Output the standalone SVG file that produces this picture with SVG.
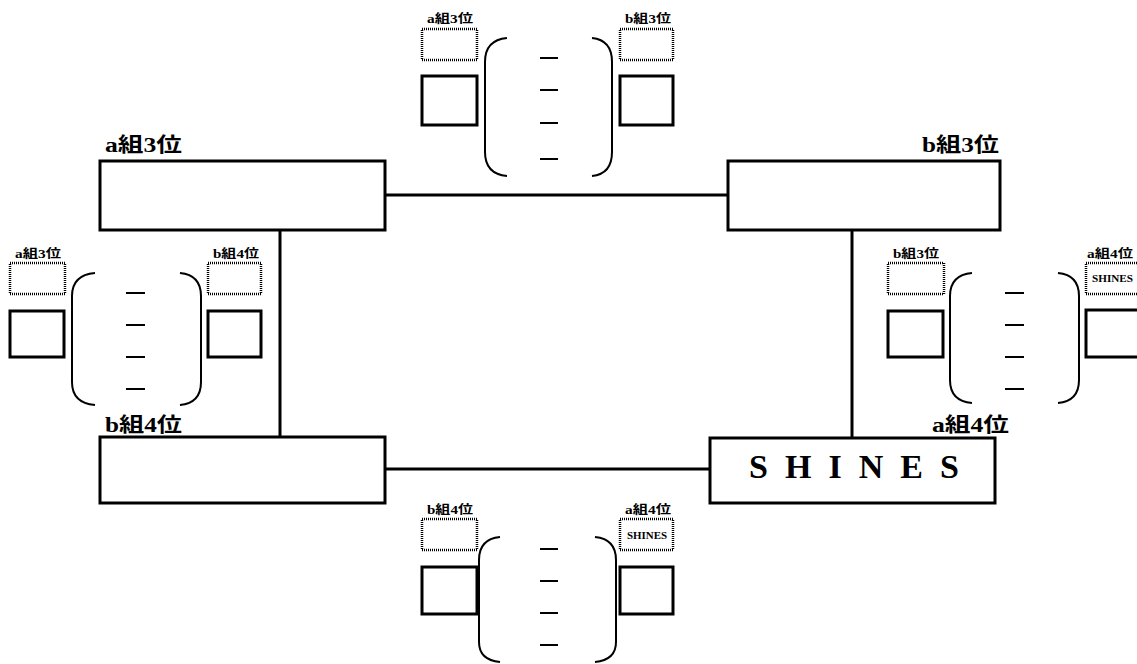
<svg xmlns="http://www.w3.org/2000/svg" width="1137" height="664" viewBox="0 0 1137 664">
<style>
.box{fill:#fff;stroke:#000;stroke-width:3}
.sq{fill:#fff;stroke:#000;stroke-width:3}
.dot{fill:none;stroke:#000;stroke-width:2.5;stroke-dasharray:1 1}
.par{fill:none;stroke:#000;stroke-width:2}
.dash{stroke:#000;stroke-width:2}
.con{stroke:#000;stroke-width:3;fill:none}
.lbl{font-family:"Liberation Serif","Noto Sans CJK JP",serif;font-weight:bold;font-size:20px;fill:#000}
.sl{font-family:"Liberation Serif","Noto Sans CJK JP",serif;font-weight:bold;font-size:12px;fill:#000}
.ss{font-family:"Liberation Serif",serif;font-weight:bold;font-size:11px;fill:#000}
.big{font-family:"Liberation Serif",serif;font-weight:bold;font-size:34px;fill:#000}
</style>
<g id="connectors">
<line class="con" x1="385" y1="195" x2="728" y2="195"/>
<line class="con" x1="385" y1="469" x2="710" y2="469"/>
<line class="con" x1="280" y1="230" x2="280" y2="437"/>
<line class="con" x1="852" y1="230" x2="852" y2="438"/>
</g>
<g id="node-a3">
<text class="lbl" x="105" y="152" textLength="77" lengthAdjust="spacingAndGlyphs">a組3位</text>
<rect class="box" x="100" y="161" width="285" height="69"/>
</g>
<g id="node-b3">
<text class="lbl" x="922" y="152" textLength="77" lengthAdjust="spacingAndGlyphs">b組3位</text>
<rect class="box" x="728" y="161" width="272" height="69"/>
</g>
<g id="node-b4">
<text class="lbl" x="105" y="432" textLength="77" lengthAdjust="spacingAndGlyphs">b組4位</text>
<rect class="box" x="100" y="437" width="285" height="66"/>
</g>
<g id="node-a4">
<text class="lbl" x="932" y="432" textLength="77" lengthAdjust="spacingAndGlyphs">a組4位</text>
<rect class="box" x="710" y="438" width="285" height="65"/>
<text class="big" x="749" y="478" textLength="210" lengthAdjust="spacing">SHINES</text>
</g>
<g id="match-top">
<text class="sl" x="427" y="23" textLength="46" lengthAdjust="spacingAndGlyphs">a組3位</text>
<rect class="dot" x="422" y="29" width="55" height="31"/>
<rect class="sq" x="422" y="76" width="55" height="49"/>
<path class="par" d="M507 38 Q485 40 485 62 L485 152 Q485 174 507 176"/>
<line class="dash" x1="540" y1="58" x2="558" y2="58"/>
<line class="dash" x1="540" y1="90" x2="558" y2="90"/>
<line class="dash" x1="540" y1="123" x2="558" y2="123"/>
<line class="dash" x1="540" y1="159" x2="558" y2="159"/>
<path class="par" d="M592 38 Q612 40 612 62 L612 152 Q612 174 592 176"/>
<text class="sl" x="625" y="23" textLength="46" lengthAdjust="spacingAndGlyphs">b組3位</text>
<rect class="dot" x="620" y="29" width="53" height="31"/>
<rect class="sq" x="620" y="76" width="53" height="49"/>
</g>
<g id="match-left">
<text class="sl" x="15" y="258" textLength="46" lengthAdjust="spacingAndGlyphs">a組3位</text>
<rect class="dot" x="10" y="263" width="55" height="31"/>
<rect class="sq" x="10" y="311" width="54" height="46"/>
<path class="par" d="M95 273 Q72 275 72 296 L72 382 Q72 403 95 405"/>
<line class="dash" x1="126" y1="293" x2="145" y2="293"/>
<line class="dash" x1="126" y1="325" x2="145" y2="325"/>
<line class="dash" x1="126" y1="357" x2="145" y2="357"/>
<line class="dash" x1="126" y1="389" x2="145" y2="389"/>
<path class="par" d="M180 273 Q201 275 201 296 L201 382 Q201 403 180 405"/>
<text class="sl" x="213" y="258" textLength="46" lengthAdjust="spacingAndGlyphs">b組4位</text>
<rect class="dot" x="208" y="263" width="53" height="31"/>
<rect class="sq" x="208" y="311" width="53" height="46"/>
</g>
<g id="match-right">
<text class="sl" x="893" y="258" textLength="46" lengthAdjust="spacingAndGlyphs">b組3位</text>
<rect class="dot" x="888" y="263" width="56" height="31"/>
<rect class="sq" x="888" y="311" width="55" height="46"/>
<path class="par" d="M972 273 Q950 275 950 296 L950 380 Q950 401 972 403"/>
<line class="dash" x1="1005" y1="293" x2="1024" y2="293"/>
<line class="dash" x1="1005" y1="325" x2="1024" y2="325"/>
<line class="dash" x1="1005" y1="357" x2="1024" y2="357"/>
<line class="dash" x1="1005" y1="389" x2="1024" y2="389"/>
<path class="par" d="M1058 273 Q1079 275 1079 296 L1079 380 Q1079 401 1058 403"/>
<text class="sl" x="1087" y="258" textLength="46" lengthAdjust="spacingAndGlyphs">a組4位</text>
<rect class="dot" x="1086" y="263" width="56" height="31"/>
<text class="ss" x="1092" y="282" textLength="41" lengthAdjust="spacingAndGlyphs">SHINES</text>
<rect class="sq" x="1086" y="310" width="56" height="47"/>
</g>
<g id="match-bottom">
<text class="sl" x="427" y="514" textLength="46" lengthAdjust="spacingAndGlyphs">b組4位</text>
<rect class="dot" x="422" y="519" width="55" height="31"/>
<rect class="sq" x="422" y="567" width="55" height="47"/>
<path class="par" d="M500 537 Q479 539 479 560 L479 642 Q479 660 500 662"/>
<line class="dash" x1="540" y1="549" x2="558" y2="549"/>
<line class="dash" x1="540" y1="581" x2="558" y2="581"/>
<line class="dash" x1="540" y1="613" x2="558" y2="613"/>
<line class="dash" x1="540" y1="645" x2="558" y2="645"/>
<path class="par" d="M595 537 Q616 539 616 560 L616 642 Q616 660 595 662"/>
<text class="sl" x="625" y="514" textLength="46" lengthAdjust="spacingAndGlyphs">a組4位</text>
<rect class="dot" x="620" y="519" width="53" height="31"/>
<text class="ss" x="627" y="539" textLength="40" lengthAdjust="spacingAndGlyphs">SHINES</text>
<rect class="sq" x="620" y="567" width="53" height="47"/>
</g>
</svg>
